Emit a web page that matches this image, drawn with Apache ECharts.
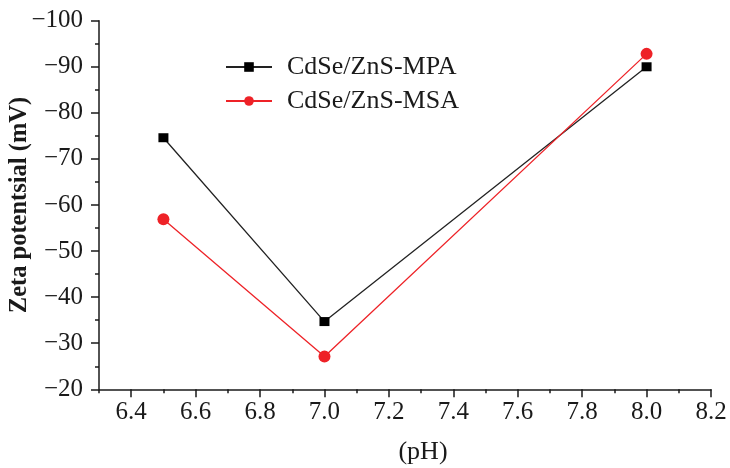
<!DOCTYPE html>
<html>
<head>
<meta charset="utf-8">
<script src="https://cdn.jsdelivr.net/npm/echarts@6/dist/echarts.min.js"></script>
<style>
  html, body { margin: 0; padding: 0; background: #fff; }
  #chart { width: 730px; height: 468px; }
</style>
</head>
<body>
<div id="chart"></div>
<script>
// pH values where zeta potential was measured
const phValues = [6.5, 7.0, 8.0];
// zeta potential (mV) for the two capped quantum dots
const mpaZeta = [-74.6, -34.7, -90.0];
const msaZeta = [-56.9, -27.1, -92.8];
// axis ticks
const xTicks = [6.4, 6.6, 6.8, 7.0, 7.2, 7.4, 7.6, 7.8, 8.0, 8.2];
const xMinorTicks = [6.3, 6.5, 6.7, 6.9, 7.1, 7.3, 7.5, 7.7, 7.9, 8.1];
const seriesNames = ['CdSe/ZnS-MPA', 'CdSe/ZnS-MSA'];

const serif = '"Liberation Serif", "Times New Roman", serif';
const ink = '#1a1a1a';

const chart = echarts.init(document.getElementById('chart'), null, { renderer: 'canvas' });

const pair = (xs, ys) => xs.map((x, i) => [x, ys[i]]);

chart.setOption({
  animation: false,
  backgroundColor: '#fff',
  grid: {
    left: 99, right: 19, top: 20.7, bottom: 78.7,
    containLabel: false,
    outerBoundsMode: 'none'
  },
  legend: {
    orient: 'vertical',
    left: 220,
    top: 49,
    itemWidth: 46,
    itemHeight: 12,
    itemGap: 8,
    textStyle: { fontFamily: serif, fontSize: 26, color: ink, padding: [0, 0, 0, 10] },
    data: seriesNames
  },
  xAxis: [
    {
      type: 'value',
      min: 6.3,
      max: 8.2,
      name: '(pH)',
      nameLocation: 'middle',
      nameGap: 50,
      nameMoveOverlap: false,
      nameTextStyle: { fontFamily: serif, fontSize: 26, color: ink, padding: [0, 0, 0, 36] },
      axisLine: { show: true, onZero: false, lineStyle: { color: ink, width: 1.5 } },
      axisTick: { show: true, customValues: xTicks, length: 8, inside: false, lineStyle: { color: ink, width: 1.5 } },
      axisLabel: {
        customValues: xTicks,
        margin: 11,
        fontFamily: serif,
        fontSize: 25,
        color: ink,
        formatter: v => v.toFixed(1)
      },
      splitLine: { show: false }
    },
    {
      type: 'value',
      min: 6.3,
      max: 8.2,
      position: 'bottom',
      axisLine: { show: false, onZero: false },
      axisTick: { show: true, customValues: xMinorTicks, length: 4, lineStyle: { color: ink, width: 1.5 } },
      axisLabel: { show: false },
      splitLine: { show: false }
    }
  ],
  yAxis: {
    type: 'value',
    inverse: true,
    min: -100,
    max: -20,
    interval: 10,
    name: 'Zeta potentsial (mV)',
    nameLocation: 'middle',
    nameGap: 67,
    nameMoveOverlap: false,
    nameTextStyle: { fontFamily: serif, fontSize: 24.5, fontWeight: 'bold', color: ink },
    axisLine: { show: true, onZero: false, lineStyle: { color: ink, width: 1.5 } },
    axisTick: { show: true, length: 8, lineStyle: { color: ink, width: 1.5 } },
    minorTick: { show: true, splitNumber: 2, length: 4, lineStyle: { color: ink, width: 1.5 } },
    axisLabel: {
      margin: 16,
      fontFamily: serif,
      fontSize: 25,
      color: ink,
      formatter: v => String(v).replace('-', '\u2212')
    },
    splitLine: { show: false },
    minorSplitLine: { show: false }
  },
  series: [
    {
      name: seriesNames[0],
      type: 'line',
      data: pair(phValues, mpaZeta),
      symbol: 'rect',
      symbolSize: [10, 9],
      color: '#000000',
      lineStyle: { color: '#222', width: 1.3 },
      itemStyle: { color: '#000000' }
    },
    {
      name: seriesNames[1],
      type: 'line',
      data: pair(phValues, msaZeta),
      symbol: 'circle',
      symbolSize: 12,
      color: '#ee2227',
      lineStyle: { color: '#ee2227', width: 1.3 },
      itemStyle: { color: '#ee2227' }
    }
  ]
});
</script>
</body>
</html>
